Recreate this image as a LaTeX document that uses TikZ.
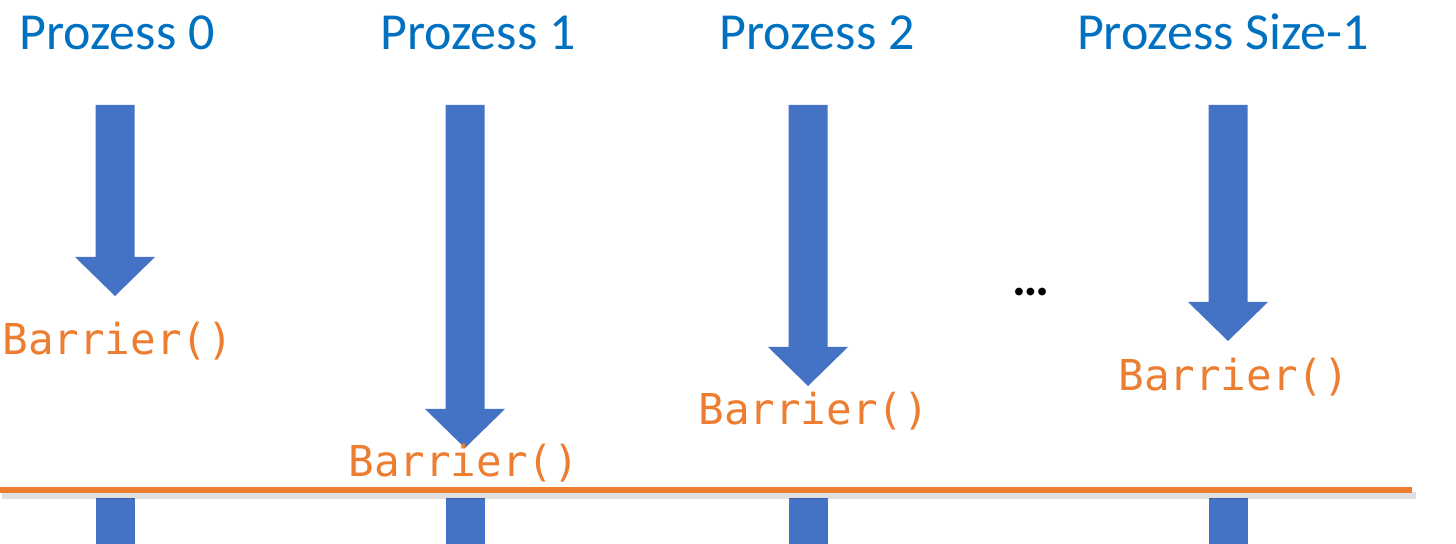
\documentclass[tikz,border=0pt]{standalone}
\usepackage{fontspec}
\setmainfont{Carlito}
\newfontfamily\codefont{DejaVu Sans Mono}
\definecolor{titleblue}{HTML}{0070C0}
\definecolor{arrowblue}{HTML}{4472C4}
\definecolor{barrierorange}{HTML}{ED7D31}

\begin{document}
\begin{tikzpicture}[x=0.5pt,y=-0.5pt,
  title/.style={text=titleblue,font=\fontsize{26}{30}\selectfont,anchor=base,inner sep=0pt},
  barrier/.style={text=barrierorange,font=\codefont\fontsize{21.3}{25}\selectfont,anchor=base west,inner sep=0pt}]
  \useasboundingbox (0,0) rectangle (1456,544);
  % The processes: arrow centre, title centre, start of the head, label position
  \foreach \cx/\tx/\hy/\lx/\ly/\nr/\nm in {115/117/257/2/355/0/pa,465/478/409/348/477/1/pb,808/817/347/698/425/2/pc,1228/1223/302/1118/391/Size-1/pd}
  {
    \node[title] (t\nm) at (\tx,50) {Prozess \nr};
    \fill[arrowblue] (\cx-19.5,105) -- (\cx+19.5,105) -- (\cx+19.5,\hy) -- (\cx+40,\hy)
      -- (\cx,\hy+39) -- (\cx-40,\hy) -- (\cx-19.5,\hy) -- cycle;
    \node[barrier] (b\nm) at (\lx,\ly) {Barrier()};
    % stub below the barrier
    \fill[arrowblue] (\cx-19.5,498) rectangle (\cx+19.5,544);
  }
  % The dots
  \node[font=\fontsize{26}{30}\selectfont\bfseries,anchor=base,inner sep=0pt] (dots) at (1031,296) {…};
  % The barrier line
  \fill[black,opacity=0.12] (2,492) rectangle (1416,499);
  \draw[barrierorange,line width=3.2pt] (0,490) -- (1412,490);
\end{tikzpicture}
\end{document}
